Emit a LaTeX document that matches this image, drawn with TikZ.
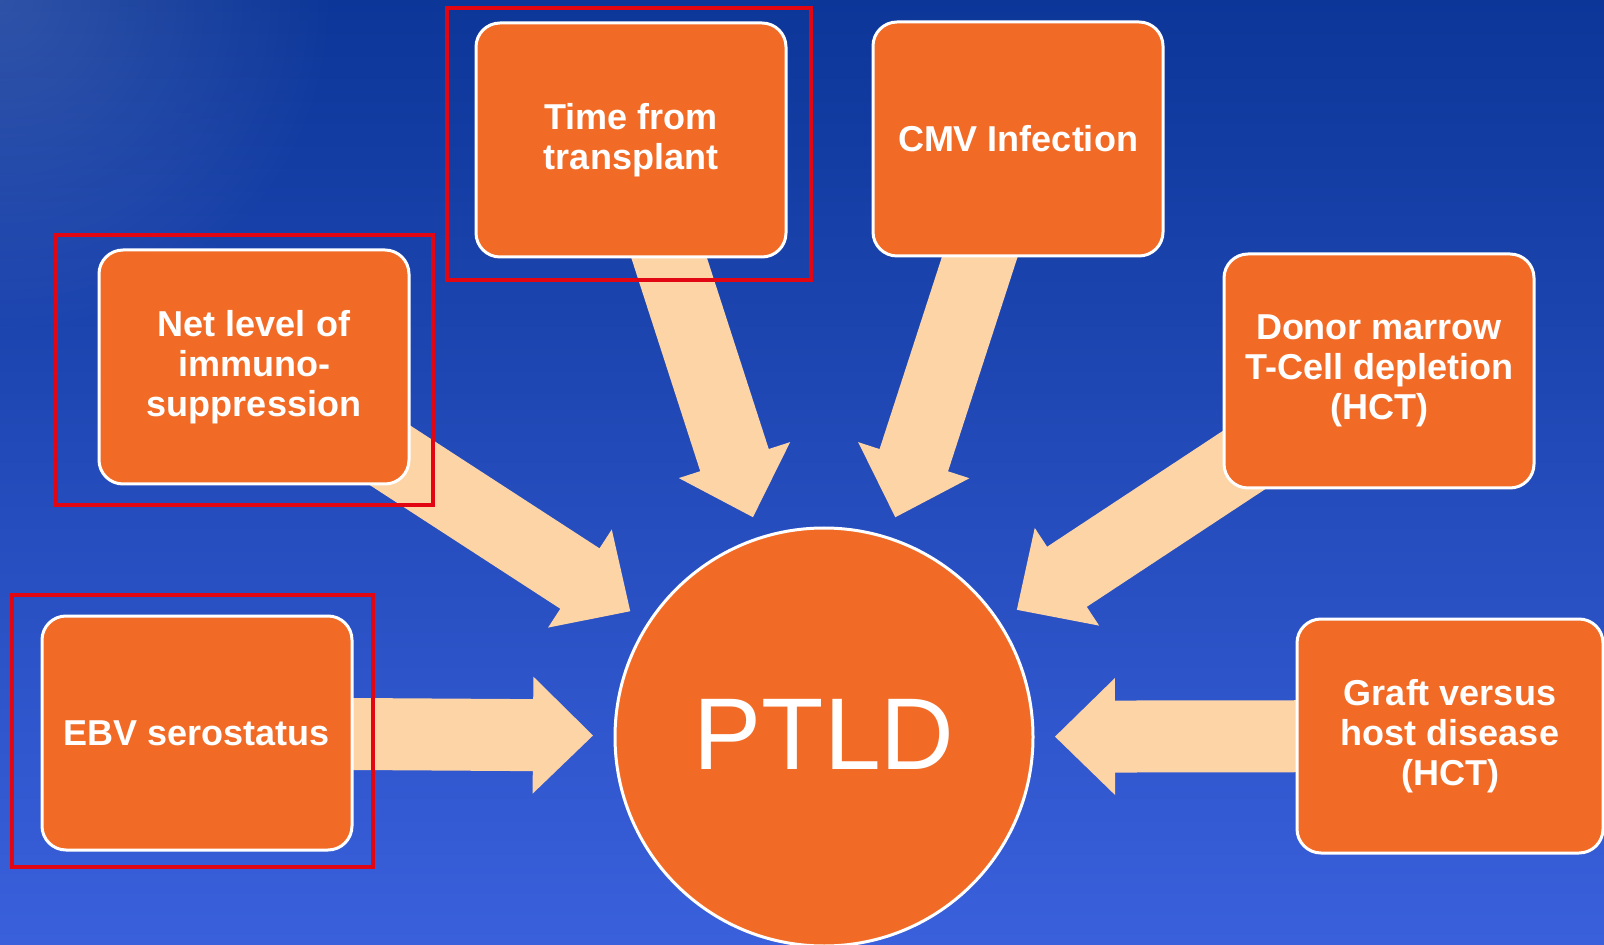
\documentclass[tikz,border=0pt]{standalone}
\usepackage{fontspec}
\setmainfont{Liberation Sans}
\usetikzlibrary{calc,backgrounds,fadings}

\definecolor{skytop}{RGB}{12,54,152}
\definecolor{skybottom}{RGB}{58,96,220}
\definecolor{boxorange}{RGB}{242,107,38}
\definecolor{peach}{RGB}{253,212,166}
\definecolor{markred}{RGB}{226,6,19}

\tikzfading[name=sheen, inner color=transparent!0, outer color=transparent!100]

\begin{document}
\begin{tikzpicture}[
                    x=0.5pt, y=-0.5pt,
                    every node/.style={text=white, align=center},
                    factor/.style={rectangle, rounded corners=12pt, fill=boxorange,
                        draw=white, line width=1.5pt, minimum width=155pt,
                        minimum height=117pt, font=\bfseries\fontsize{18}{20}\selectfont},
                    core/.style={circle, fill=boxorange, draw=white, line width=1.5pt,
                        minimum size=209pt, inner sep=0pt, font=\fontsize{51}{51}\selectfont},
                    feed/.style={fill=peach},
                    redmark/.style={draw=markred, line width=2pt},
                ]
                \useasboundingbox (0,0) rectangle (1604,945);
                \node[factor] (time) at (631,140) {Time from\\transplant};
                \node[factor, minimum width=145pt] (cmv) at (1018,139) {CMV Infection};
                \node[factor] (net) at (254,367) {Net level of\\immuno-\\suppression};
                \node[factor] (donor) at (1379,371) {Donor marrow\\T-Cell depletion\\(HCT)};
                \node[factor] (ebv) at (197,733) {EBV serostatus};
                \node[factor, minimum width=153pt] (gvhd) at (1450,736) {Graft versus\\host disease\\(HCT)};
                \node[core] (ptld) at (824,737) {\raisebox{3pt}{PTLD}};
                \begin{scope}[on background layer]
                    \shade[top color=skytop, bottom color=skybottom] (0,0) rectangle (1604,945);
                    \fill[white, opacity=0.14, path fading=sheen] (0,0) circle (340);
                    % block arrows, box centre to a point just off the circle
                    \foreach \src in {time,cmv,net,donor,ebv,gvhd} {
                        \coordinate (tip) at ($(ptld.center)!115.5pt!(\src.center)$);
                        \fill[feed] let \p1=(\src.center), \p2=(tip),
                            \n1={atan2(\y2-\y1,\x2-\x1)}, \n2={veclen(\x2-\x1,\y2-\y1)} in
                            [shift={(\p1)}, rotate=\n1]
                            (0pt,18pt) -- (\n2-30pt,18pt) -- (\n2-30pt,29.25pt) -- (\n2,0pt)
                            -- (\n2-30pt,-29.25pt) -- (\n2-30pt,-18pt) -- (0pt,-18pt) -- cycle;
                    }
                \end{scope}
                % highlighted factors
                \draw[redmark] (447,8) rectangle (811,280);
                \draw[redmark] (56,235) rectangle (433,505);
                \draw[redmark] (12,595) rectangle (373,867);
                \end{tikzpicture}
\end{document}
